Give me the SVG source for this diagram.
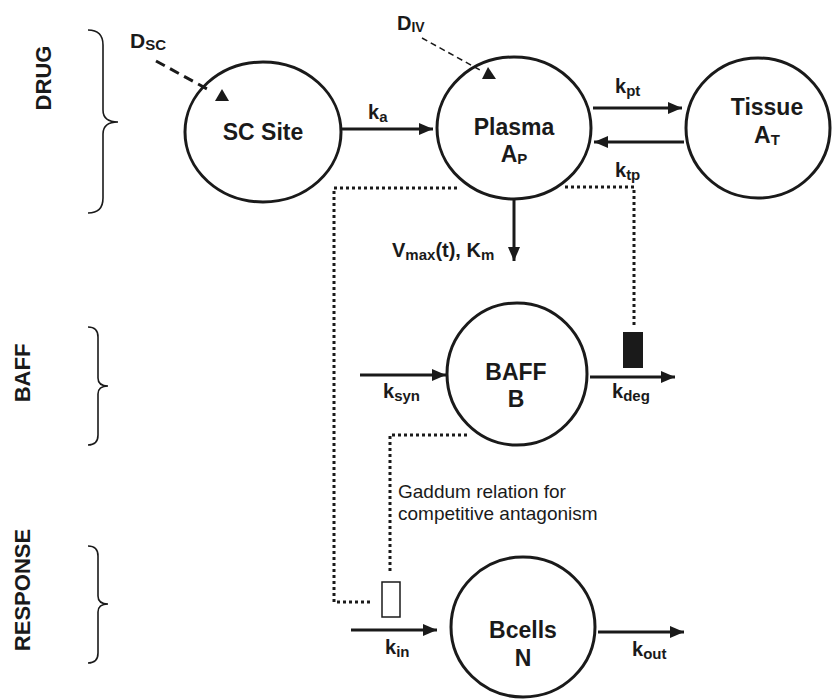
<svg xmlns="http://www.w3.org/2000/svg" width="832" height="699" viewBox="0 0 832 699">
<style>
.node{fill:#fff;stroke:#1a1a1a;stroke-width:3}
.lbl{font-family:"Liberation Sans",Arial,sans-serif;font-weight:bold;fill:#1a1a1a}
.nt{font-size:23px;text-anchor:middle}
.k{font-size:20px}
.sub{font-size:15px}
.grp{font-size:22px;text-anchor:middle}
.arr{stroke:#1a1a1a;stroke-width:3;fill:none}
.dot{stroke:#1a1a1a;stroke-width:3;fill:none;stroke-dasharray:3 3}
.brace{stroke:#1a1a1a;stroke-width:1.6;fill:none}
.note{font-family:"Liberation Sans",Arial,sans-serif;font-size:19px;fill:#1a1a1a}
</style>
<defs>
<marker id="ah" markerUnits="userSpaceOnUse" markerWidth="14" markerHeight="12" refX="14" refY="6" orient="auto">
<path d="M0,0 L14,6 L0,12 Z" fill="#1a1a1a"/>
</marker>
</defs>

<g id="labels">
<text class="lbl grp" transform="translate(51,78) rotate(-90)">DRUG</text>
<text class="lbl grp" transform="translate(30,373) rotate(-90)">BAFF</text>
<text class="lbl grp" transform="translate(30,590) rotate(-90)">RESPONSE</text>
<path class="brace" d="M88,30 Q103,30 103,45 L103,110 Q103,122 118,122 Q103,122 103,134 L103,198 Q103,213 88,213"/>
<path class="brace" d="M88,327 Q98,327 98,337 L98,378 Q98,386 108,386 Q98,386 98,394 L98,435 Q98,445 88,445"/>
<path class="brace" d="M88,546 Q98,546 98,556 L98,596 Q98,604 108,604 Q98,604 98,612 L98,653 Q98,663 88,663"/>
</g>

<g id="sc-site">
<ellipse class="node" cx="263" cy="132" rx="78" ry="70"/>
<text class="lbl nt" x="263" y="140">SC Site</text>
</g>
<g id="plasma">
<ellipse class="node" cx="514" cy="128" rx="77" ry="71"/>
<text class="lbl nt" x="514" y="135">Plasma</text>
<text class="lbl nt" x="514" y="162">A<tspan class="sub" dy="2">P</tspan></text>
</g>
<g id="tissue">
<ellipse class="node" cx="758" cy="128" rx="72" ry="70"/>
<text class="lbl nt" x="767" y="115">Tissue</text>
<text class="lbl nt" x="767" y="143">A<tspan class="sub" dy="2">T</tspan></text>
</g>
<g id="baff">
<ellipse class="node" cx="517" cy="374" rx="70" ry="71"/>
<text class="lbl nt" x="516" y="380">BAFF</text>
<text class="lbl nt" x="516" y="407">B</text>
</g>
<g id="bcells">
<ellipse class="node" cx="523" cy="627" rx="72" ry="70"/>
<text class="lbl nt" x="523" y="638">Bcells</text>
<text class="lbl nt" x="523" y="666">N</text>
</g>

<g id="connectors">
<line class="arr" x1="341" y1="129" x2="433" y2="129" marker-end="url(#ah)"/>
<line class="arr" x1="593" y1="108" x2="682" y2="108" marker-end="url(#ah)"/>
<line class="arr" x1="684" y1="142" x2="594" y2="142" marker-end="url(#ah)"/>
<line class="arr" x1="514" y1="199" x2="514" y2="261" marker-end="url(#ah)"/>
<line class="arr" x1="360" y1="375" x2="446" y2="375" marker-end="url(#ah)"/>
<line class="arr" x1="590" y1="377" x2="675" y2="377" marker-end="url(#ah)"/>
<line class="arr" x1="351" y1="630" x2="437" y2="630" marker-end="url(#ah)"/>
<line class="arr" x1="598" y1="632" x2="684" y2="632" marker-end="url(#ah)"/>
<line x1="156" y1="61" x2="209" y2="90" stroke="#1a1a1a" stroke-width="3" stroke-dasharray="10 6"/>
<path d="M222,89 L229,101 L215,101 Z" fill="#1a1a1a"/>
<line x1="422" y1="38" x2="480" y2="70" stroke="#1a1a1a" stroke-width="1.5" stroke-dasharray="6 4"/>
<path d="M488,67 L496,79 L482,79 Z" fill="#1a1a1a"/>
<polyline class="dot" points="457,188 334,188 334,602 373,602"/>
<polyline class="dot" points="565,187 634,187 634,328"/>
<polyline class="dot" points="467,435 390,435 390,572"/>
<rect x="623" y="332" width="20" height="36" fill="#1a1a1a"/>
<rect x="382" y="582" width="18" height="35" fill="#fff" stroke="#1a1a1a" stroke-width="1.5"/>
</g>

<g id="edge-labels">
<text class="lbl" x="130" y="48" font-size="21">D<tspan font-size="15" dy="2">SC</tspan></text>
<text class="lbl" x="397" y="30" font-size="20">D<tspan font-size="14" dy="2">IV</tspan></text>
<text class="lbl k" x="368" y="119">k<tspan class="sub" dy="3">a</tspan></text>
<text class="lbl k" x="615" y="93">k<tspan class="sub" dy="3">pt</tspan></text>
<text class="lbl k" x="615" y="177">k<tspan class="sub" dy="3">tp</tspan></text>
<text class="lbl k" x="392" y="257">V<tspan class="sub" dy="3">max</tspan><tspan dy="-3">(t), K</tspan><tspan class="sub" dy="3">m</tspan></text>
<text class="lbl k" x="383" y="398">k<tspan class="sub" dy="3">syn</tspan></text>
<text class="lbl k" x="612" y="398">k<tspan class="sub" dy="3">deg</tspan></text>
<text class="lbl k" x="385" y="654">k<tspan class="sub" dy="3">in</tspan></text>
<text class="lbl k" x="632" y="656">k<tspan class="sub" dy="3">out</tspan></text>
<text class="note" x="398" y="498">Gaddum relation for</text>
<text class="note" x="398" y="520">competitive antagonism</text>
</g>
</svg>
